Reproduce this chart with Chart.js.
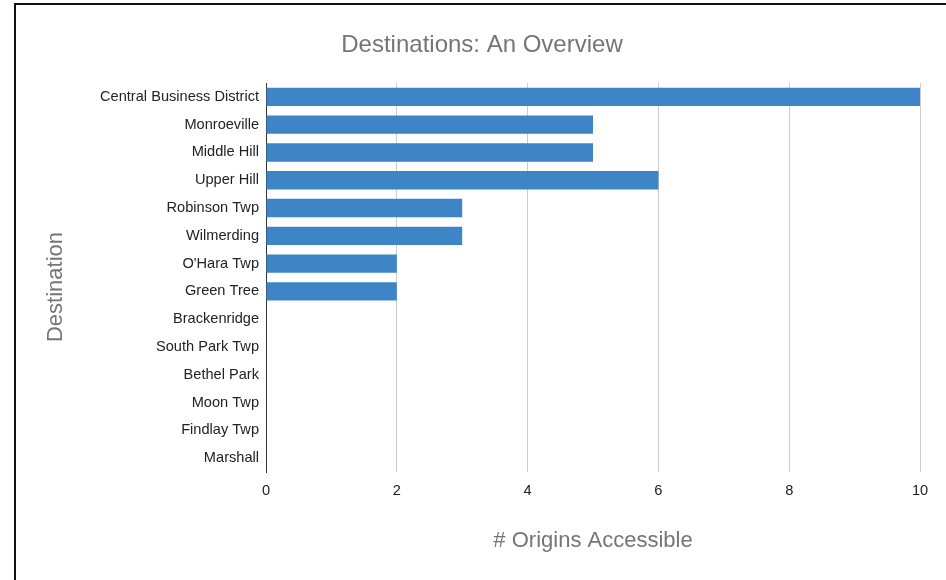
<!DOCTYPE html>
<html>
<head>
<meta charset="utf-8">
<script src="https://cdn.jsdelivr.net/npm/chart.js@4"></script>
<style>
  html, body { margin: 0; padding: 0; background: #fff; }
  #wrap { position: relative; width: 946px; height: 580px; overflow: hidden; }
  #frame { position: absolute; left: 14px; top: 3px; width: 1000px; height: 700px;
           border-left: 2px solid #111; border-top: 2px solid #111; }
  canvas { position: absolute; left: 0; top: 0; }
</style>
</head>
<body>
<div id="wrap">
  <div id="frame"></div>
  <canvas id="chartDestinos" width="946" height="580"></canvas>
</div>
<script>
const destinos = ['Central Business District', 'Monroeville', 'Middle Hill', 'Upper Hill',
  'Robinson Twp', 'Wilmerding', "O'Hara Twp", 'Green Tree', 'Brackenridge',
  'South Park Twp', 'Bethel Park', 'Moon Twp', 'Findlay Twp', 'Marshall'];
const origenes = [10, 5, 5, 6, 3, 3, 2, 2, 0, 0, 0, 0, 0, 0];
const ticksX = [0, 2, 4, 6, 8, 10];

const tituloChart = 'Destinations: An Overview';
const tituloX = '# Origins Accessible';
const tituloY = 'Destination';

const fuente = "Arial, 'Liberation Sans', sans-serif";

// titulos dibujados a mano para ubicarlos igual que el original
const titulos = {
  id: 'titulos',
  afterDraw(chart) {
    const c = chart.ctx;
    const area = chart.chartArea;
    c.save();
    c.fillStyle = '#757575';
    c.textAlign = 'center';
    c.textBaseline = 'middle';
    c.font = '24px ' + fuente;
    c.fillText(tituloChart, 482, 45);
    c.font = '22px ' + fuente;
    c.fillText(tituloX, (area.left + area.right) / 2, 541);
    c.translate(56, 287);
    c.rotate(-Math.PI / 2);
    c.fillText(tituloY, 0, 0);
    c.restore();
  }
};

const ctx = document.getElementById("chartDestinos").getContext("2d");
new Chart(ctx, {
  type: 'bar',
  data: {
    labels: destinos,
    datasets: [{
      label: tituloX,
      data: origenes,
      backgroundColor: '#3d85c6',
      barPercentage: 0.66,
      categoryPercentage: 1
    }]
  },
  plugins: [titulos],
  options: {
    indexAxis: 'y',
    responsive: false,
    animation: false,
    layout: { padding: { left: 15, right: 26, top: 83, bottom: 0 } },
    plugins: {
      legend: { display: false },
      tooltip: { enabled: false },
      title: { display: false }
    },
    scales: {
      x: {
        min: 0,
        max: 10,
        afterBuildTicks: axis => { axis.ticks = ticksX.map(v => ({ value: v })); },
        afterFit: axis => { axis.height = 108; },
        grid: { color: '#cccccc', drawTicks: false },
        border: { display: false },
        ticks: { color: '#222', padding: 10, font: { family: fuente, size: 14.6 } }
      },
      y: {
        afterFit: axis => { axis.width = 251; },
        grid: { display: false, drawTicks: false },
        border: { display: true, color: '#333', width: 1 },
        ticks: { color: '#222', padding: 7, font: { family: fuente, size: 14.6 } }
      }
    }
  }
});
</script>
</body>
</html>
